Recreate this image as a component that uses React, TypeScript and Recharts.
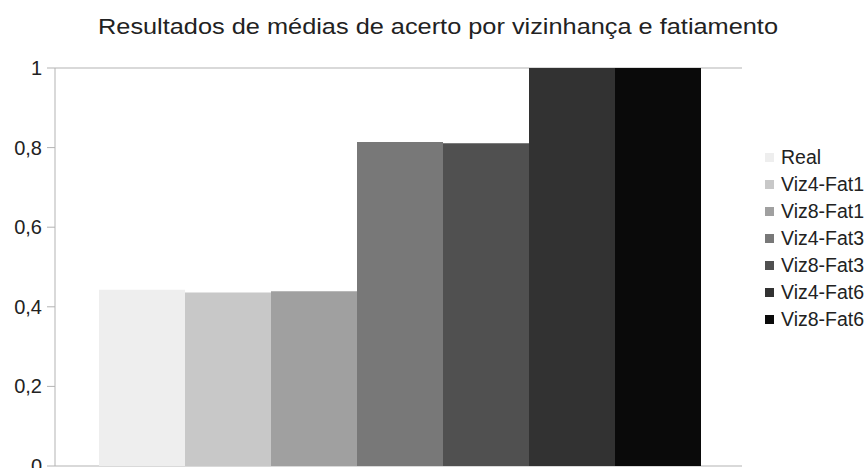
import { Bar, BarChart, CartesianGrid, Legend, XAxis, YAxis } from "recharts";

const categories = ["Acerto"];
const seriesNames = ["Real", "Viz4-Fat1", "Viz8-Fat1", "Viz4-Fat3", "Viz8-Fat3", "Viz4-Fat6", "Viz8-Fat6"];
const seriesValues = [0.443, 0.436, 0.439, 0.814, 0.811, 1, 1];
const seriesColors = ["#eeeeee", "#c8c8c8", "#a0a0a0", "#787878", "#505050", "#323232", "#0a0a0a"];
const yTicks = [0, 0.2, 0.4, 0.6, 0.8, 1];
const title = "Resultados de médias de acerto por vizinhança e fatiamento";

const data = categories.map((name) => {
  const row: Record<string, string | number> = { name };
  seriesNames.forEach((s, i) => {
    row[s] = seriesValues[i];
  });
  return row;
});

const font = "'Liberation Sans', Arial, sans-serif";

function YTick({ x, y, payload }: any) {
  return (
    <text x={x} y={y} dx={-3} dy={7} textAnchor="end" fontSize={20} fontFamily={font} fill="#222">
      {String(payload.value).replace(".", ",")}
    </text>
  );
}

// legend built from the series lists so the order stays as in the chart
function ChartLegend() {
  return (
    <div style={{ fontFamily: font, fontSize: 19.5, color: "#222" }}>
      {seriesNames.map((s, i) => (
        <div key={s} style={{ height: 27, display: "flex", alignItems: "center", paddingLeft: 23 }}>
          <span style={{ width: 9, height: 9, background: seriesColors[i], marginRight: 7, display: "inline-block" }} />
          <span>{s}</span>
        </div>
      ))}
    </div>
  );
}

export default function App() {
  return (
    <div style={{ position: "absolute", left: 0, top: 0 }}>
      <BarChart
        data={data}
        width={868}
        height={468}
        margin={{ top: 68, right: 0, bottom: 2, left: 0 }}
        barGap={0}
        barCategoryGap={44}
      >
        <text
          x={438}
          y={34}
          textAnchor="middle"
          fontSize={22}
          fontFamily={font}
          fill="#222"
          textLength={680}
          lengthAdjust="spacingAndGlyphs"
        >
          {title}
        </text>
        <CartesianGrid vertical={false} stroke="#b3b3b3" />
        <XAxis dataKey="name" hide />
        <YAxis
          yAxisId="left"
          width={55}
          domain={[0, 1]}
          ticks={yTicks}
          tick={<YTick />}
          tickLine={{ stroke: "#b3b3b3" }}
          tickSize={8}
          axisLine={{ stroke: "#b3b3b3" }}
          interval={0}
        />
        <YAxis yAxisId="right" orientation="right" width={0} tick={false} tickLine={false} axisLine={{ stroke: "#b3b3b3" }} />
        <Legend
          layout="vertical"
          align="right"
          verticalAlign="middle"
          width={126}
          wrapperStyle={{ top: 144, right: 0 }}
          content={<ChartLegend />}
        />
        {seriesNames.map((s, i) => (
          <Bar key={s} yAxisId="left" dataKey={s} fill={seriesColors[i]} isAnimationActive={false} />
        ))}
      </BarChart>
    </div>
  );
}
